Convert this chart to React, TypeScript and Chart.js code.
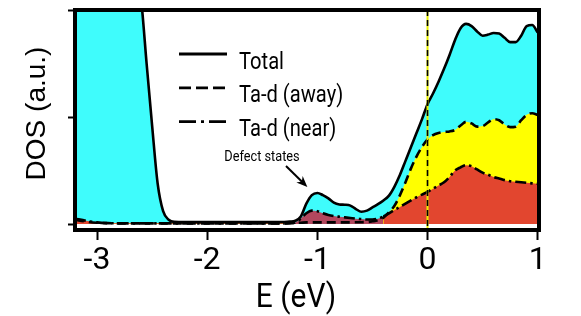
import React, { useEffect, useRef } from 'react';
import { Chart, registerables } from 'chart.js';

Chart.register(...registerables);

// ---------- data ----------
const energies = [
  -3.2, -3.1, -3.0, -2.9, -2.8, -2.7, -2.65, -2.6, -2.55, -2.5, -2.45, -2.4, -2.35, -2.3,
  -2.2, -2.0, -1.8, -1.6, -1.4, -1.3, -1.25, -1.2, -1.15,
  -1.1, -1.05, -1.0, -0.95, -0.9, -0.85, -0.8, -0.75, -0.7, -0.65,
  -0.6, -0.55, -0.5, -0.45, -0.4, -0.35, -0.3, -0.25, -0.2, -0.15,
  -0.1, -0.05, 0, 0.05, 0.1, 0.15, 0.2, 0.25, 0.3, 0.35,
  0.4, 0.45, 0.5, 0.55, 0.6, 0.65, 0.7, 0.75, 0.8, 0.85,
  0.9, 0.95, 1.0,
];

const totalDOS = [
  2.6, 2.6, 2.6, 2.6, 2.6, 2.55, 2.4, 2.1, 1.5, 0.92, 0.38, 0.12, 0.04, 0.02,
  0.018, 0.018, 0.018, 0.018, 0.018, 0.019, 0.022, 0.03, 0.07,
  0.19, 0.27, 0.29, 0.27, 0.24, 0.2, 0.183, 0.18, 0.172, 0.14,
  0.115, 0.125, 0.155, 0.185, 0.22, 0.265, 0.35, 0.46, 0.59, 0.72,
  0.85, 0.98, 1.12, 1.22, 1.33, 1.45, 1.58, 1.72, 1.83, 1.87,
  1.85, 1.8, 1.76, 1.77, 1.785, 1.78, 1.74, 1.7, 1.7, 1.76,
  1.85, 1.86, 1.79,
];

const awayDOS = [
  0.04, 0.022, 0.012, 0.008, 0.006, 0.006, 0.006, 0.006, 0.006, 0.006, 0.006, 0.006, 0.006, 0.006,
  0.006, 0.006, 0.006, 0.006, 0.006, 0.006, 0.008, 0.01, 0.012,
  0.015, 0.015, 0.015, 0.015, 0.015, 0.015, 0.015, 0.015, 0.015, 0.016,
  0.017, 0.018, 0.025, 0.035, 0.06, 0.11, 0.17, 0.27, 0.39, 0.52,
  0.63, 0.72, 0.79, 0.83, 0.85, 0.86, 0.865, 0.88, 0.92, 0.955,
  0.94, 0.91, 0.915, 0.95, 0.98, 0.97, 0.93, 0.905, 0.91, 0.97,
  1.02, 1.035, 1.02,
];

const nearDOS = [
  0.05, 0.03, 0.015, 0.008, 0.006, 0.006, 0.006, 0.006, 0.006, 0.006, 0.006, 0.006, 0.006, 0.006,
  0.006, 0.006, 0.006, 0.006, 0.006, 0.006, 0.008, 0.015, 0.05,
  0.1, 0.125, 0.12, 0.1, 0.085, 0.075, 0.068, 0.062, 0.056, 0.05,
  0.046, 0.042, 0.042, 0.05, 0.07, 0.1, 0.13, 0.16, 0.19, 0.22,
  0.25, 0.275, 0.3, 0.33, 0.36, 0.39, 0.44, 0.5, 0.53, 0.55,
  0.54, 0.51, 0.48, 0.46, 0.44, 0.425, 0.41, 0.4, 0.395, 0.39,
  0.385, 0.38, 0.375,
];

const seriesLabels = ['Total', 'Ta-d (away)', 'Ta-d (near)'];
const xTicks = [-3, -2, -1, 0, 1];
const yTicks = [0, 1, 2];
const xTitle = 'E (eV)';
const yTitle = 'DOS (a.u.)';
const annotationText = 'Defect states';
const defectRange = [-1.3, -0.4];
const defectPeak = { x: -1.0, y: 0.29 };
const fermiLevel = 0;

// ---------- styles ----------
const CYAN = '#3ffcfc';
const YELLOW = '#ffff00';
const RED = '#e2462f';
const MAROON = '#b2475e';
const SANS = "Roboto, 'Liberation Sans', sans-serif";
const REGULAR = "'Liberation Sans', Arial, sans-serif";
const DASH_AWAY = [9, 5];
const DASH_NEAR = [11, 4, 2.5, 4];

function condensedText(ctx: CanvasRenderingContext2D, text: string, x: number, y: number, sx: number) {
  ctx.save();
  ctx.translate(x, y);
  ctx.scale(sx, 1);
  ctx.fillText(text, 0, 0);
  ctx.restore();
}

const overlay = {
  id: 'overlay',
  afterDatasetsDraw(chart: any) {
    const { ctx, chartArea, scales } = chart;
    const x0 = scales.x.getPixelForValue(fermiLevel);
    ctx.save();
    ctx.beginPath();
    ctx.rect(chartArea.left, chartArea.top, chartArea.right - chartArea.left, chartArea.bottom - chartArea.top);
    ctx.clip();
    ctx.strokeStyle = '#e8f000';
    ctx.lineWidth = 2;
    ctx.beginPath();
    ctx.moveTo(x0, chartArea.top);
    ctx.lineTo(x0, chartArea.bottom);
    ctx.stroke();
    ctx.strokeStyle = '#000';
    ctx.lineWidth = 1.6;
    ctx.setLineDash([6, 4]);
    ctx.beginPath();
    ctx.moveTo(x0, chartArea.top);
    ctx.lineTo(x0, chartArea.bottom);
    ctx.stroke();
    ctx.restore();
  },
  afterDraw(chart: any) {
    const { ctx, chartArea, scales } = chart;
    ctx.save();
    // frame
    ctx.strokeStyle = '#000';
    ctx.lineWidth = 4;
    ctx.setLineDash([]);
    ctx.strokeRect(chartArea.left, chartArea.top, chartArea.right - chartArea.left, chartArea.bottom - chartArea.top);

    ctx.fillStyle = '#000';
    ctx.textBaseline = 'alphabetic';

    // axis titles
    ctx.font = `34px ${SANS}`;
    ctx.textAlign = 'center';
    condensedText(ctx, xTitle, 296, 306.5, 0.88);
    ctx.save();
    ctx.font = `28px ${REGULAR}`;
    ctx.translate(45, 113.5);
    ctx.rotate(-Math.PI / 2);
    ctx.fillText(yTitle, 0, 0);
    ctx.restore();

    // legend
    const dashes = [[], [12, 5], [17, 5, 3, 5]];
    ctx.font = `24px ${SANS}`;
    ctx.textAlign = 'left';
    seriesLabels.forEach((lab, i) => {
      const y = 54 + i * 33.8;
      ctx.lineWidth = 2.8;
      ctx.lineCap = 'butt';
      ctx.setLineDash(dashes[i]);
      ctx.beginPath();
      ctx.moveTo(179, y);
      ctx.lineTo(227, y);
      ctx.stroke();
      ctx.setLineDash([]);
      condensedText(ctx, lab, 239, y + 14.5, 0.84);
    });

    // annotation
    ctx.font = `15px ${SANS}`;
    ctx.textAlign = 'center';
    condensedText(ctx, annotationText, 262, 160.5, 0.85);
    const tx = scales.x.getPixelForValue(defectPeak.x) - 10;
    const ty = scales.y.getPixelForValue(defectPeak.y) - 6;
    const sx = 286;
    const sy = 166;
    const dx = tx - sx;
    const dy = ty - sy;
    const len = Math.hypot(dx, dy);
    const ux = dx / len;
    const uy = dy / len;
    const hl = 11;
    const hw = 4.5;
    ctx.lineWidth = 2;
    ctx.beginPath();
    ctx.moveTo(sx, sy);
    ctx.lineTo(tx - ux * 6, ty - uy * 6);
    ctx.stroke();
    const bx = tx - ux * hl;
    const by = ty - uy * hl;
    ctx.beginPath();
    ctx.moveTo(tx, ty);
    ctx.lineTo(bx - uy * hw, by + ux * hw);
    ctx.lineTo(tx - ux * hl * 0.7, ty - uy * hl * 0.7);
    ctx.lineTo(bx + uy * hw, by - ux * hw);
    ctx.closePath();
    ctx.fill();
    ctx.restore();
  },
};

export default function App() {
  const ref = useRef<HTMLCanvasElement>(null);
  useEffect(() => {
    const pts = (arr: number[]) => energies.map((x, i) => ({ x, y: arr[i] }));
    const chart = new Chart(ref.current as HTMLCanvasElement, {
      type: 'line',
      data: {
        datasets: [
          {
            label: seriesLabels[2],
            data: pts(nearDOS),
            borderColor: '#000',
            borderWidth: 2.6,
            borderDash: DASH_NEAR,
            backgroundColor: RED,
            fill: 'origin',
            segment: {
              backgroundColor: (c: any) =>
                c.p0.parsed.x >= defectRange[0] && c.p1.parsed.x <= defectRange[1] ? MAROON : RED,
            },
          } as any,
          {
            label: seriesLabels[1],
            data: pts(awayDOS),
            borderColor: '#000',
            borderWidth: 2.6,
            borderDash: DASH_AWAY,
            backgroundColor: YELLOW,
            fill: 'origin',
          },
          {
            label: seriesLabels[0],
            data: pts(totalDOS),
            borderColor: '#000',
            borderWidth: 2.6,
            backgroundColor: CYAN,
            fill: 'origin',
          },
        ],
      },
      options: {
        responsive: false,
        animation: false,
        devicePixelRatio: 1,
        layout: { padding: { top: 10, right: 42, left: 0, bottom: 0 } },
        elements: {
          point: { radius: 0 },
          line: { cubicInterpolationMode: 'monotone', borderCapStyle: 'butt', borderJoinStyle: 'round' },
        },
        scales: {
          x: {
            type: 'linear',
            min: -3.2,
            max: 1.012,
            afterBuildTicks: (s: any) => {
              s.ticks = xTicks.map((v) => ({ value: v }));
            },
            afterFit: (s: any) => {
              s.height = 86;
            },
            grid: { drawOnChartArea: false, drawTicks: true, tickLength: 10, tickWidth: 2, tickColor: '#000' },
            border: { display: false },
            ticks: {
              color: '#000',
              font: { family: SANS, size: 32 },
              padding: 2,
              maxRotation: 0,
              autoSkip: false,
              callback: (v: any) => String(v),
            },
            title: { display: false },
          },
          y: {
            type: 'linear',
            min: -0.056,
            max: 2,
            afterBuildTicks: (s: any) => {
              s.ticks = yTicks.map((v) => ({ value: v }));
            },
            afterFit: (s: any) => {
              s.width = 75;
            },
            grid: { drawOnChartArea: false, drawTicks: true, tickLength: 7, tickWidth: 2, tickColor: '#000' },
            border: { display: false },
            ticks: { callback: () => '', padding: 0 },
            title: { display: false },
          },
        },
        plugins: {
          legend: { display: false },
          tooltip: { enabled: false },
          filler: { drawTime: 'beforeDatasetsDraw' },
        } as any,
      },
      plugins: [overlay],
    });
    return () => chart.destroy();
  }, []);
  return (
    <div style={{ position: 'absolute', left: 0, top: 0, width: 581, height: 316 }}>
      <canvas ref={ref} width={581} height={316} style={{ display: 'block' }} />
    </div>
  );
}
